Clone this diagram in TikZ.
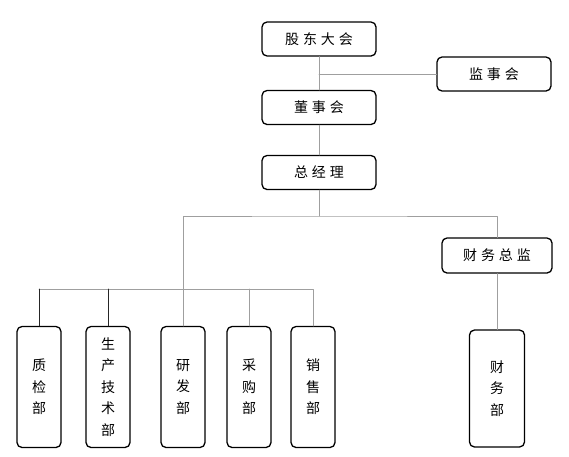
\documentclass[tikz,border=0pt]{standalone}
\usepackage{fontspec}
\newfontfamily\cjk{Noto Sans CJK SC}
\newfontfamily\cjkwide[LetterSpace=28]{Noto Sans CJK SC}
\begin{document}
\begin{tikzpicture}[x=1pt,y=-1pt,line join=round,line cap=round,
	box/.style={draw,line width=1.3pt,rounded corners=5pt,inner sep=0pt,fill=white},
	wide/.style={box,minimum width=114pt,minimum height=34pt,font=\cjkwide\fontsize{14}{17}\selectfont},
	tall/.style={box,minimum width=44pt,minimum height=121pt,align=center,font=\cjk\fontsize{14}{21.5}\selectfont},
	link/.style={gray!75,line width=0.8pt},
	linkdark/.style={black!85,line width=0.8pt}]
	\useasboundingbox (0,0) rectangle (569,456);
	\path
	(319,216) coordinate (split)
	(176,289) coordinate (bar);
	% upper part
	\node[wide] (gd) at (319,39) {股东大会};
	\node[wide] (js) at (494,74) {监事会};
	\node[wide] (ds) at (319,107.5) {董事会};
	\node[wide] (zjl) at (319,172.5) {总经理};
	\node[wide,minimum width=110pt,minimum height=35pt] (cfo) at (497,255.5) {财务总监};
	% departments
	\node[tall] (zj) at (39,387) {质\\检\\部};
	\node[tall] (sc) at (108,387) {生\\产\\技\\术\\部};
	\node[tall] (yf) at (183,387) {研\\发\\部};
	\node[tall] (cg) at (249,387) {采\\购\\部};
	\node[tall] (xs) at (313,387) {销\\售\\部};
	\node[tall,minimum width=55pt,minimum height=117pt] (cw) at (497,388.5) {财\\务\\部};
	% connectors
	\draw[link](gd.south)--(ds.north);
	\draw[link](gd.south|-js.west)--(js.west);
	\draw[link](ds.south)--(zjl.north);
	\draw[link](zjl.south)--(split);
	\draw[link](yf.north)|-(split)-|(cfo.north);
	\draw[link](cfo.south)--(cw.north);
	\draw[link](zj.north|-bar)--(xs.north|-bar)--(xs.north);
	\draw[linkdark](zj.north)--(zj.north|-bar);
	\draw[linkdark](sc.north)--(sc.north|-bar);
	\draw[link](cg.north)--(cg.north|-bar);
\end{tikzpicture}
\end{document}
